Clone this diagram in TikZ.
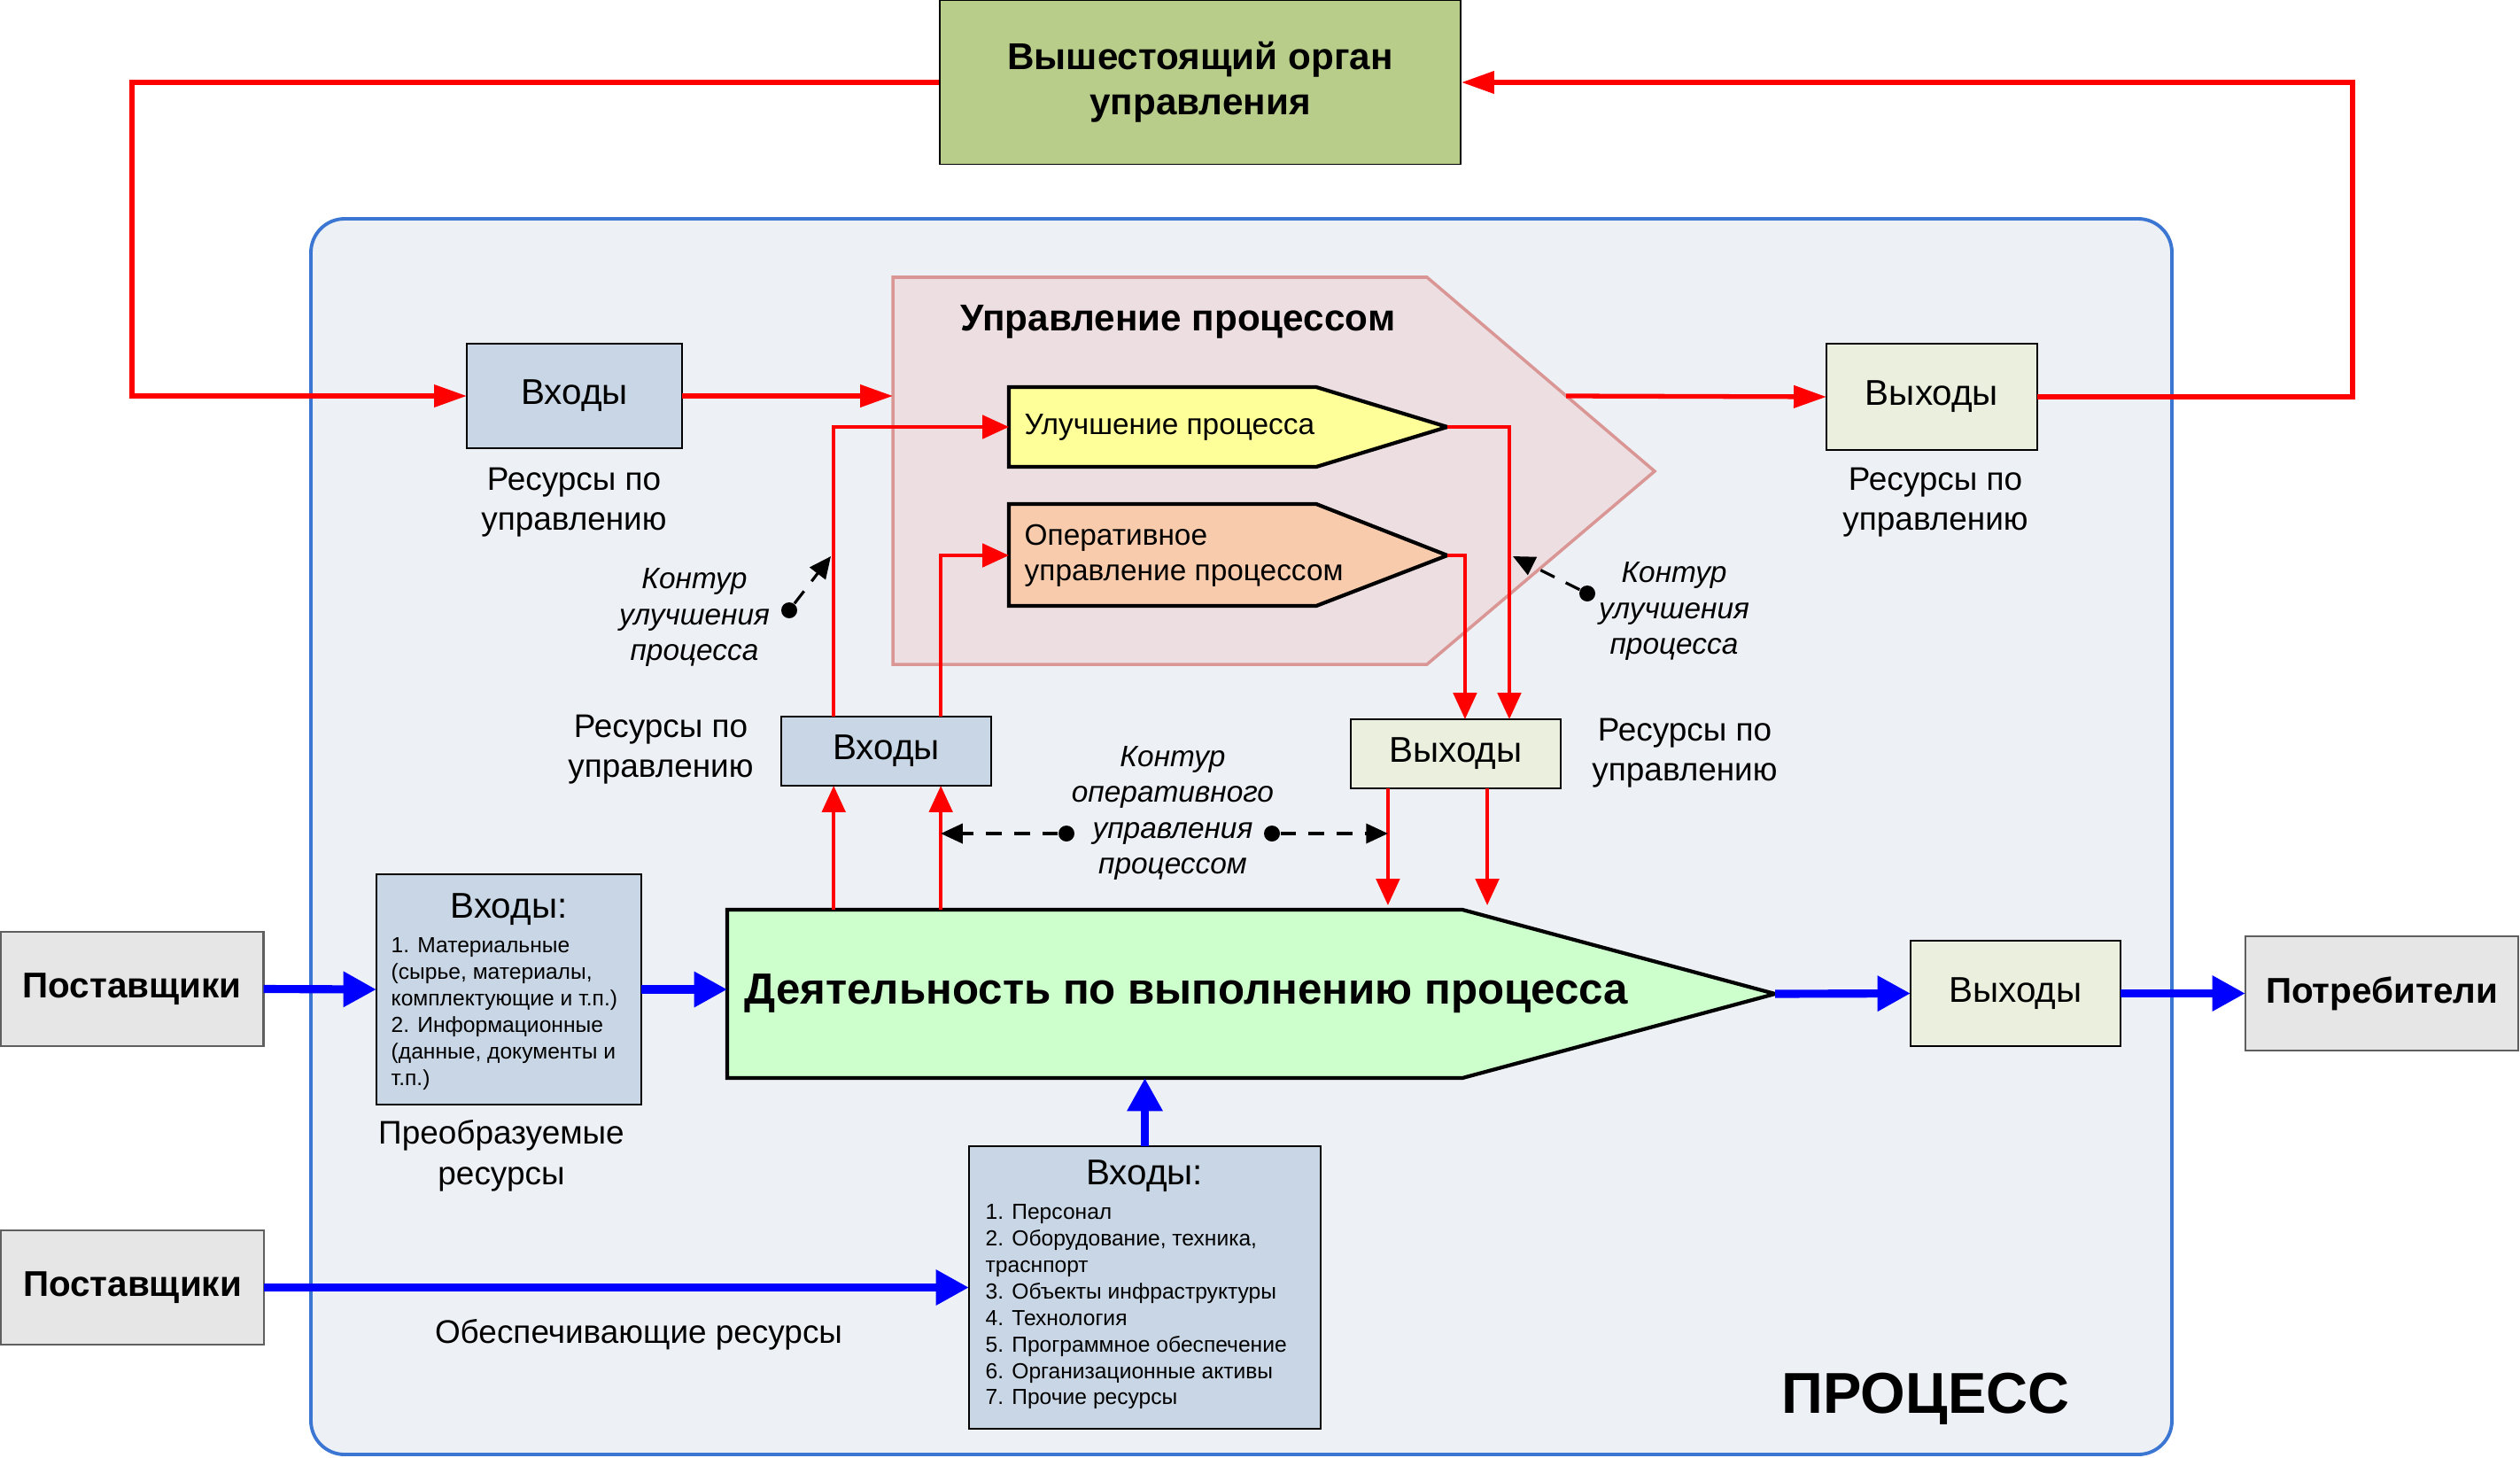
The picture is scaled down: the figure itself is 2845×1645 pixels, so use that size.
\documentclass[tikz,border=0pt]{standalone}
\usepackage{fontspec}
\setmainfont{Liberation Sans}
\usetikzlibrary{arrows.meta,calc}

\definecolor{procfill}{RGB}{237,240,245}
\definecolor{procline}{RGB}{58,118,210}
\definecolor{bossfill}{RGB}{185,205,138}
\definecolor{ctrlfill}{RGB}{237,222,226}
\definecolor{ctrlline}{RGB}{217,150,148}
\definecolor{imprfill}{RGB}{255,255,153}
\definecolor{operfill}{RGB}{248,203,173}
\definecolor{infill}{RGB}{200,214,229}
\definecolor{outfill}{RGB}{235,240,222}
\definecolor{actfill}{RGB}{204,255,204}
\definecolor{extfill}{RGB}{230,230,230}
\definecolor{extline}{RGB}{95,95,95}

\tikzset{
  resbox/.style={draw=black,line width=0.75pt,inner sep=0pt,outer sep=0pt,
    font=\fontsize{11.5}{13}\selectfont},
  inbox/.style={resbox,fill=infill},
  outbox/.style={resbox,fill=outfill},
  extbox/.style={draw=extline,line width=0.7pt,fill=extfill,inner sep=0pt,outer sep=0pt,
    minimum width=2.97cm,minimum height=1.29cm,font=\fontsize{11.5}{13}\selectfont\bfseries},
  redfb/.style={red,line width=1.5pt,-{Triangle[length=10.5pt,width=7pt]}},
  redctl/.style={red,line width=1.1pt,-{Triangle[length=8.5pt,width=7.5pt]}},
  blueflow/.style={blue,line width=2.6pt,-{Triangle[length=10.6pt,width=10.8pt]}},
  dashloop/.style={black,line width=0.9pt,dash pattern=on 5pt off 4pt,-{Triangle[length=7pt,width=6.3pt]}},
  loopdot/.style={circle,fill=black,inner sep=0pt,minimum size=0.18cm},
  sidelabel/.style={align=center,font=\fontsize{10.5}{13}\selectfont},
  looplabel/.style={align=center,font=\fontsize{9.5}{11.4}\selectfont\itshape},
  itemlist/.style={align=left,anchor=north west,inner sep=0pt,font=\fontsize{7}{8.5}\selectfont},
  pentline/.style={draw=black,line width=1.2pt},
}

\begin{document}
\begin{tikzpicture}[x=0.01cm,y=-0.01cm]
\useasboundingbox (0,0) rectangle (2845,1645);

\draw[procline,fill=procfill,line width=1.1pt,rounded corners=0.38cm] (351,247) rectangle (2452,1642);
\node at (2174,1579) {\fontsize{18.5}{20}\selectfont\bfseries ПРОЦЕСС};

\draw[ctrlline,fill=ctrlfill,line width=1pt] (1008,313) -- (1611,313) -- (1868,532) -- (1611,750) -- (1008,750) -- cycle;
\node (ctrlTitle) at (1330,363) {\fontsize{12}{14}\selectfont\bfseries Управление процессом};
\coordinate (ctrlIn) at (1008,447);
\coordinate (ctrlOut) at (1768,447);

\draw[pentline,fill=imprfill] (1139,437) -- (1486,437) -- (1634,482) -- (1486,527) -- (1139,527) -- cycle;
\coordinate (imprW) at (1139,482);
\coordinate (imprE) at (1634,482);
\node[anchor=west,inner sep=0pt,font=\fontsize{9.5}{11.4}\selectfont] (imprText) at (1156,482) {Улучшение процесса};

\draw[pentline,fill=operfill] (1139,569) -- (1486,569) -- (1634,627) -- (1486,684) -- (1139,684) -- cycle;
\coordinate (operW) at (1139,627);
\coordinate (operE) at (1634,627);
\node[anchor=west,inner sep=0pt,align=left,font=\fontsize{9.5}{11.4}\selectfont] (operText) at (1156,627) {Оперативное\\управление процессом};

\draw[pentline,fill=actfill] (821,1027) -- (1651,1027) -- (2004,1122) -- (1651,1217) -- (821,1217) -- cycle;
\coordinate (actW) at (821,1122);
\coordinate (actE) at (2004,1122);
\coordinate (actNW) at (821,1027);
\coordinate (actSW) at (821,1217);
\node[anchor=west,inner sep=0pt] (actText) at (840,1122) {\fontsize{14}{16}\selectfont\bfseries Деятельность по выполнению процесса};

\node[draw=black,line width=0.5pt,fill=bossfill,inner sep=0pt,minimum width=5.88cm,minimum height=1.85cm,
  align=center,font=\fontsize{12}{14.5}\selectfont\bfseries] (boss) at (1355,93) {Вышестоящий орган\\управления};

\node[inbox,minimum width=2.43cm,minimum height=1.18cm] (inTop) at (648.5,447) {Входы};
\node[outbox,minimum width=2.38cm,minimum height=1.2cm] (outTop) at (2181,448) {Выходы};
\node[sidelabel] (labInTop) at (648,567) {Ресурсы по\\управлению};
\node[sidelabel] (labOutTop) at (2185,567) {Ресурсы по\\управлению};

\node[inbox,minimum width=2.37cm,minimum height=0.78cm] (inMid) at (1000.5,848) {Входы};
\node[outbox,minimum width=2.37cm,minimum height=0.78cm] (outMid) at (1643.5,851) {Выходы};
\node[sidelabel] (labInMid) at (746,846) {Ресурсы по\\управлению};
\node[sidelabel] (labOutMid) at (1902,850) {Ресурсы по\\управлению};

\node[extbox] (supA) at (149,1116.5) {Поставщики};
\node[inbox,minimum width=2.99cm,minimum height=2.6cm] (inMat) at (574.5,1117) {};
\node (matTitle) at (574.5,1027) {\fontsize{11.5}{13}\selectfont Входы:};
\node[itemlist] (matList) at (441,1058) {1. Материальные\\(сырье, материалы,\\комплектующие и т.п.)\\2. Информационные\\(данные, документы и\\т.п.)};
\node[sidelabel] (labMat) at (566,1305) {Преобразуемые\\ресурсы};

\node[outbox,minimum width=2.37cm,minimum height=1.19cm] (outAct) at (2275.5,1121.5) {Выходы};
\node[extbox,minimum width=3.08cm] (cons) at (2689,1121.5) {Потребители};

\node[extbox] (supB) at (149.5,1453.5) {Поставщики};
\node[inbox,minimum width=3.97cm,minimum height=3.19cm] (inSup) at (1292.5,1453.5) {};
\node (supTitle) at (1292,1328) {\fontsize{11.5}{13}\selectfont Входы:};
\node[itemlist] (supList) at (1112,1359) {1. Персонал\\2. Оборудование, техника,\\траснпорт\\3. Объекты инфраструктуры\\4. Технология\\5. Программное обеспечение\\6. Организационные активы\\7. Прочие ресурсы};
\node[sidelabel] (labSup) at (721,1507) {Обеспечивающие ресурсы};

\coordinate (fbL) at (149,270);
\coordinate (fbR) at (2656,270);
\draw[redfb] (boss.west) -| (fbL) |- (inTop.west);
\draw[redfb] (outTop.east) -| (fbR) |- (boss.east);
\draw[redfb] (inTop.east) -- (ctrlIn);
\draw[redfb] (ctrlOut) -- (outTop.west);

\coordinate (upA) at ($(inMid.south west)!0.25!(inMid.south east)$);
\coordinate (upB) at ($(inMid.south west)!0.76!(inMid.south east)$);
\coordinate (topA) at ($(inMid.north west)!0.25!(inMid.north east)$);
\coordinate (topB) at ($(inMid.north west)!0.76!(inMid.north east)$);
\coordinate (inA) at ($(outMid.north west)!0.544!(outMid.north east)$);
\coordinate (inB) at ($(outMid.north west)!0.755!(outMid.north east)$);
\coordinate (dnA) at ($(outMid.south west)!0.177!(outMid.south east)$);
\coordinate (dnB) at ($(outMid.south west)!0.65!(outMid.south east)$);
\draw[redctl] (topA) |- (imprW);
\draw[redctl] (topB) |- (operW);
\draw[redctl] (imprE) -| (inB);
\draw[redctl] (operE) -| (inA);
\draw[redctl] (upA |- actNW) -- (upA);
\draw[redctl] (upB |- actNW) -- (upB);
\draw[redctl,shorten >=0.05cm] (dnA) -- (dnA |- actNW);
\draw[redctl,shorten >=0.05cm] (dnB) -- (dnB |- actNW);

\draw[blueflow] (supA.east) -- (inMat.west);
\draw[blueflow] (inMat.east) -- (inMat.east -| actW);
\draw[blueflow] (actE) -- (outAct.west);
\draw[blueflow] (outAct.east) -- (cons.west);
\draw[blueflow] (supB.east) -- (inSup.west);
\draw[blueflow] (inSup.north) -- (inSup.north |- actSW);

\node[loopdot] (dotL) at (891,689) {};
\node[loopdot] (dotR) at (1792,670) {};
\node[loopdot] (dotOpL) at (1204,941) {};
\node[loopdot] (dotOpR) at (1436,941) {};
\coordinate (tipL) at (938,628);
\coordinate (tipR) at (1708,628);
\draw[dashloop] (dotL) -- (tipL);
\draw[dashloop] (dotR) -- (tipR);
\draw[dashloop] (dotOpL) -- (upB |- dotOpL);
\draw[dashloop] (dotOpR) -- (dnA |- dotOpR);
\node[looplabel] (loopL) at (784,697) {Контур\\улучшения\\процесса};
\node[looplabel] (loopR) at (1890,690) {Контур\\улучшения\\процесса};
\node[looplabel] (loopOp) at (1324,918) {Контур\\оперативного\\управления\\процессом};

\end{tikzpicture}
\end{document}
